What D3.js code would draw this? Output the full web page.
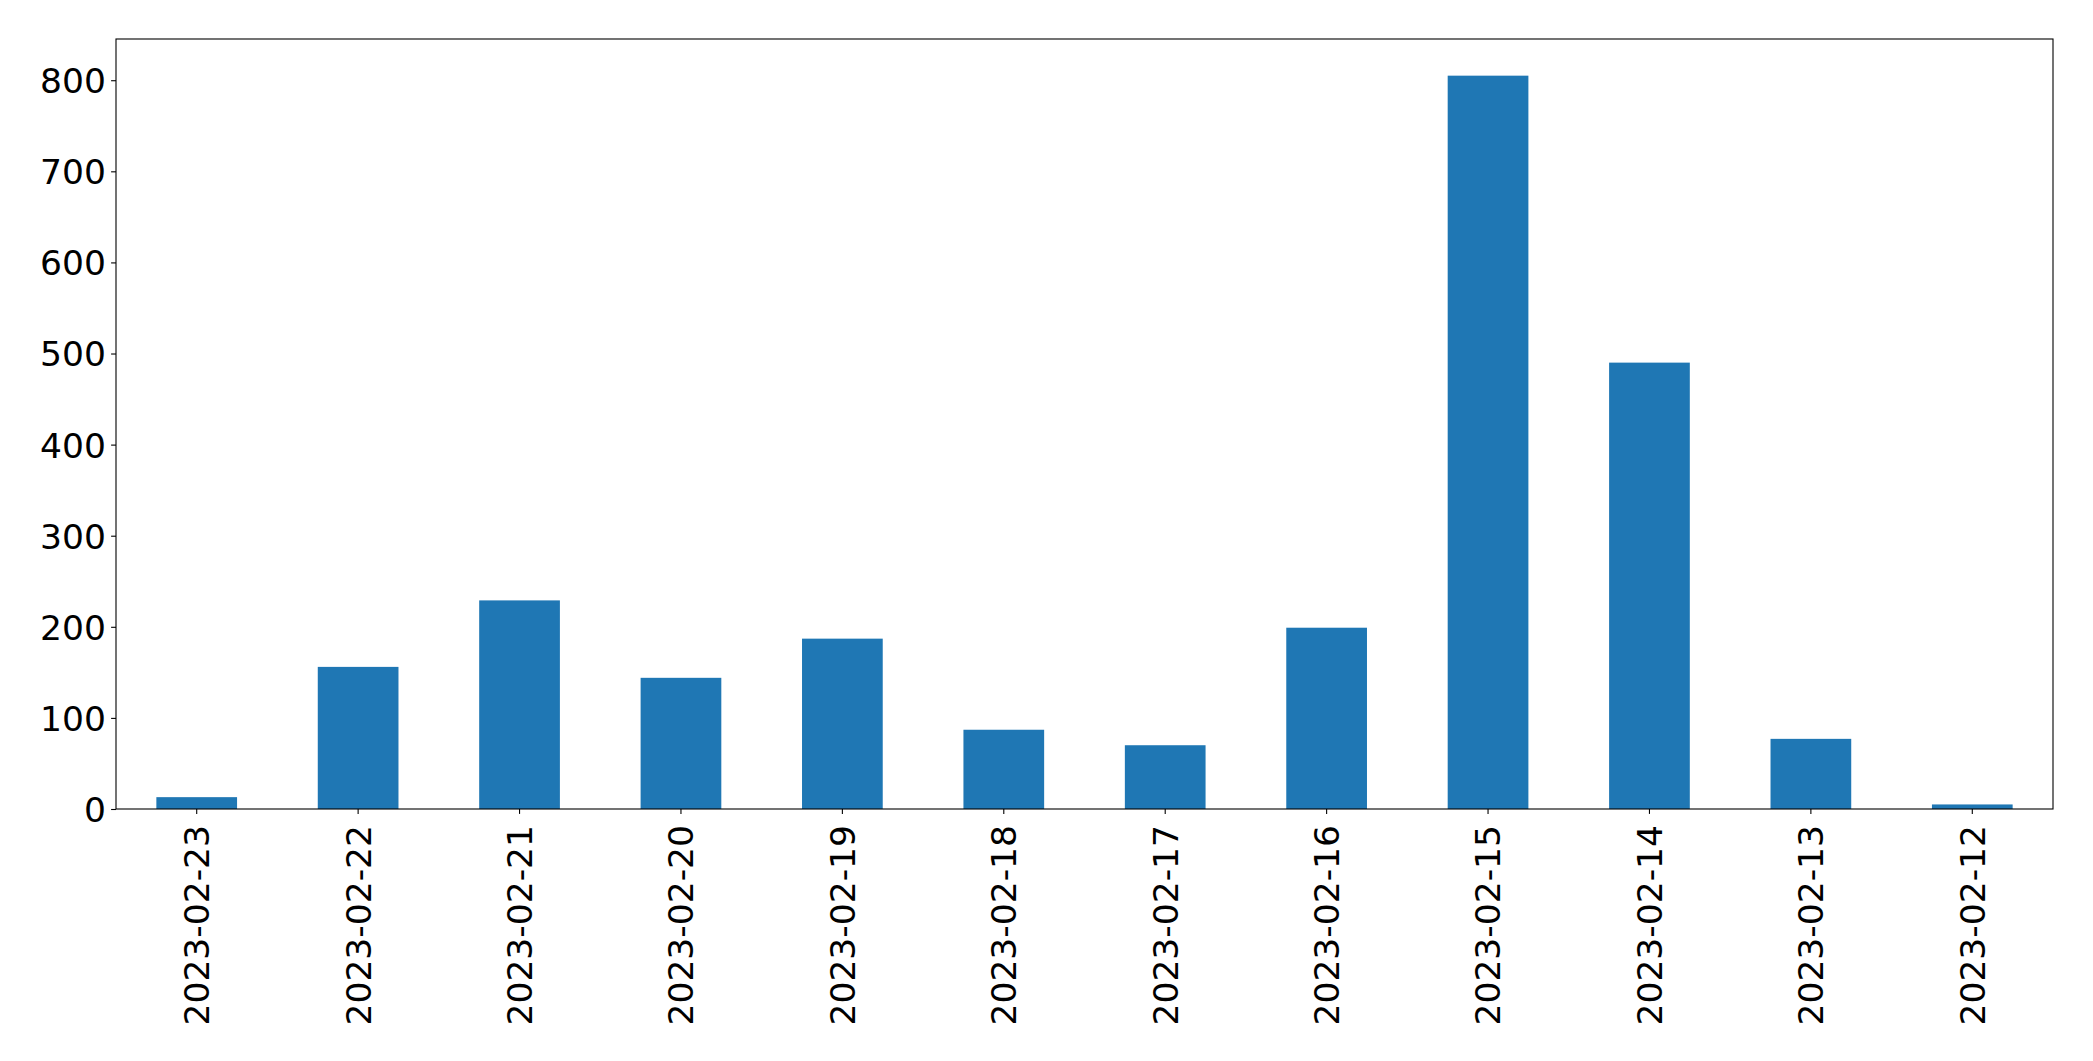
<!DOCTYPE html>
<html>
<head>
<meta charset="utf-8">
<script src="https://cdn.jsdelivr.net/npm/d3@7"></script>
<style>
  body { margin: 0; background: #fff; }
  svg text { font-family: "DejaVu Sans", sans-serif; fill: #000; }
</style>
</head>
<body>
<svg></svg>
<script>
let dates = ["2023-02-23", "2023-02-22", "2023-02-21", "2023-02-20", "2023-02-19", "2023-02-18",
             "2023-02-17", "2023-02-16", "2023-02-15", "2023-02-14", "2023-02-13", "2023-02-12"];
let counts = [13, 156, 229, 144, 187, 87, 70, 199, 805, 490, 77, 5];
let yTicks = [0, 100, 200, 300, 400, 500, 600, 700, 800];

let width = 2093, height = 1061;
let margin = {left: 116, right: 40, top: 39, bottom: 252};
let fontSize = "34.5px";

let svg = d3.select("svg")
    .attr("width", width)
    .attr("height", height);

let x = d3.scaleBand()
    .domain(dates)
    .range([margin.left, width - margin.right])
    .paddingInner(0.5)
    .paddingOuter(0.25);

let y = d3.scaleLinear()
    .domain([0, d3.max(counts) * 1.05])
    .range([height - margin.bottom, margin.top]);

// bars
svg.append("g")
    .selectAll("rect")
    .data(dates)
    .enter()
    .append("rect")
    .attr("x", d => x(d))
    .attr("width", x.bandwidth())
    .attr("y", (d, i) => y(counts[i]))
    .attr("height", (d, i) => y(0) - y(counts[i]))
    .attr("fill", "#1f77b4");

// y axis
let yAxis = svg.append("g")
    .attr("transform", "translate(" + margin.left + ",0)")
    .call(d3.axisLeft(y).tickValues(yTicks).tickSize(4.9).tickPadding(5.2).tickFormat(d3.format("d")));
yAxis.select(".domain").remove();
yAxis.selectAll("line").attr("stroke", "#000").attr("stroke-width", 1.1);
yAxis.selectAll("text").style("font-size", fontSize).attr("dy", "0.36em");

// x axis
let xAxis = svg.append("g")
    .attr("transform", "translate(0," + (height - margin.bottom) + ")")
    .call(d3.axisBottom(x).tickSize(4.9).tickSizeOuter(0));
xAxis.select(".domain").remove();
xAxis.selectAll("line").attr("stroke", "#000").attr("stroke-width", 1.1);
xAxis.selectAll("text")
    .style("font-size", fontSize)
    .attr("text-anchor", "end")
    .attr("transform", "translate(0,16) rotate(-90)")
    .attr("x", 0)
    .attr("y", 0)
    .attr("dy", "0.36em");

// frame
svg.append("rect")
    .attr("x", margin.left)
    .attr("y", margin.top)
    .attr("width", width - margin.left - margin.right)
    .attr("height", height - margin.top - margin.bottom)
    .attr("fill", "none")
    .attr("stroke", "#000")
    .attr("stroke-width", 1.1);
</script>
</body>
</html>
